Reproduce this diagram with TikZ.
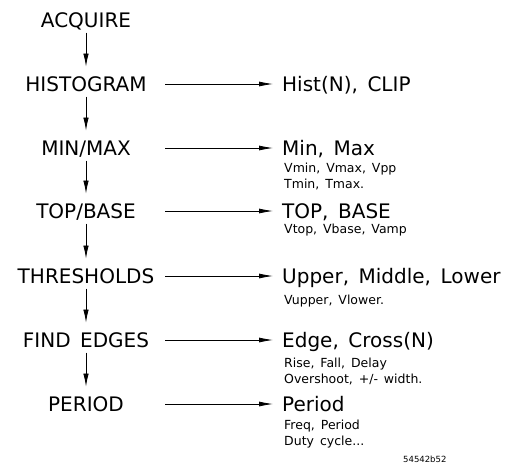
\documentclass[tikz,border=0pt]{standalone}
\usepackage{fontspec}
\setmainfont{DejaVu Sans}[WordSpace=1.5]
\usepackage{tikz}
\usetikzlibrary{arrows.meta,positioning}

\begin{document}
\begin{tikzpicture}[
  x=1pt, y=-1pt,
  stage/.style={inner sep=0pt, text height=14.6pt, text depth=0pt,
                font=\fontsize{20}{24}\selectfont},
  result/.style={stage, anchor=west},
  detail/.style={anchor=base west, inner sep=0pt, align=left,
                 font=\fontsize{12.5}{15.5}\selectfont},
  down/.style={-{Latex[length=13pt,width=5.5pt]}, line width=0.8pt,
               shorten <=5pt, shorten >=10pt},
  feed/.style={-{Latex[length=14pt,width=5pt]}, line width=0.8pt,
               shorten >=9pt},
]
\useasboundingbox (0,0) rectangle (508,464);
% Stages
\node[stage] (acq)     at (86,20)  {ACQUIRE};
\node[stage] (hist)    at (86,84)  {HISTOGRAM};
\node[stage] (minmax)  at (86,148) {MIN/MAX};
\node[stage] (topbase) at (86,211) {TOP/BASE};
\node[stage] (thresh)  at (86,276) {THRESHOLDS};
\node[stage] (edges)   at (86,340) {FIND EDGES};
\node[stage] (period)  at (86,404) {PERIOD};
\coordinate (lstart) at (165,0);
% Results (detail nodes sit on the baseline of their last line)
\node[result] (histout)    at (282,84)  {Hist(N), CLIP};
\node[result] (minmaxout)  at (282,148) {Min, Max};
\node[result] (topbaseout) at (282,211) {TOP, BASE};
\node[result] (threshout)  at (282,276) {Upper, Middle, Lower};
\node[result] (edgesout)   at (282,340) {Edge, Cross(N)};
\node[result] (periodout)  at (282,404) {Period};
\node[detail] (minmaxsub)  at (284,188) {Vmin, Vmax, Vpp\\Tmin, Tmax.};
\node[detail] (topbasesub) at (284,233) {Vtop, Vbase, Vamp};
\node[detail] (threshsub)  at (284,304) {Vupper, Vlower.};
\node[detail] (edgessub)   at (284,383) {Rise, Fall, Delay\\Overshoot, +/- width.};
\node[detail] (periodsub)  at (284,445) {Freq, Period\\Duty cycle...};
\node[detail, font=\fontsize{8.5}{10}\selectfont] (figno) at (403,462) {54542b52};
% Arrows
\draw[down] (acq)     -- (hist);
\draw[down] (hist)    -- (minmax);
\draw[down] (minmax)  -- (topbase);
\draw[down] (topbase) -- (thresh);
\draw[down] (thresh)  -- (edges);
\draw[down] (edges)   -- (period);
\draw[feed] (hist -| lstart)    -- (histout);
\draw[feed] (minmax -| lstart)  -- (minmaxout);
\draw[feed] (topbase -| lstart) -- (topbaseout);
\draw[feed] (thresh -| lstart)  -- (threshout);
\draw[feed] (edges -| lstart)   -- (edgesout);
\draw[feed] (period -| lstart)  -- (periodout);
\end{tikzpicture}
\end{document}
